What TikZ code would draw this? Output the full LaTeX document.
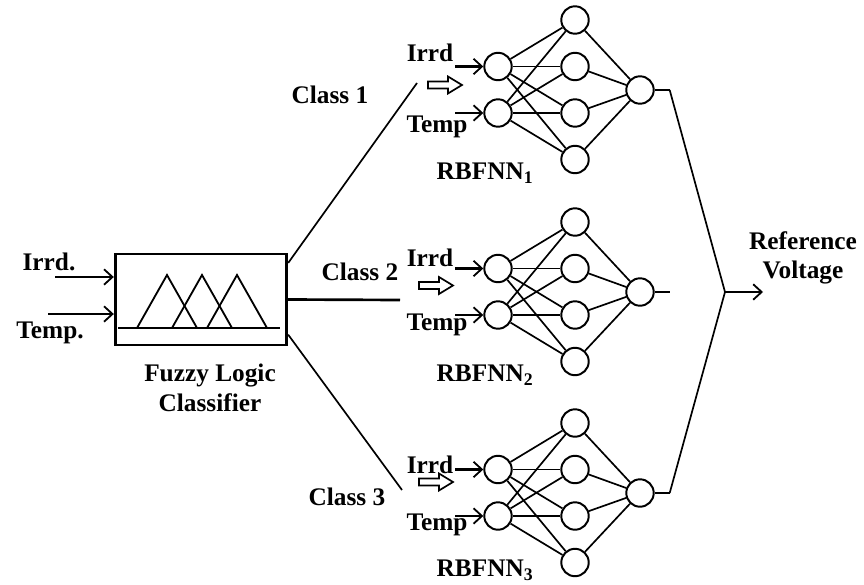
\documentclass[tikz,border=0pt]{standalone}
\usepackage{fontspec}
\setmainfont{Liberation Serif}
\usetikzlibrary{arrows.meta,positioning}

\tikzset{
  neuron/.style={draw,circle,line width=1.4pt,minimum size=19.5pt,inner sep=0pt},
  lbl/.style={font=\fontsize{18}{21}\selectfont\bfseries,inner sep=0pt,align=center},
  conn/.style={line width=1.2pt},
  inarrow/.style={line width=1.5pt,-{Straight Barb[length=6pt,width=11pt,line width=1.3pt]}},
  hollowarrow/.pic={\draw[line width=1.2pt,line join=miter] (-17,-3.5)--(3,-3.5)--(3,-8.5)--(17,0)--(3,8.5)--(3,3.5)--(-17,3.5)--cycle;}
}

\begin{document}
\begin{tikzpicture}[x=0.025cm,y=-0.025cm]
  \useasboundingbox (0,0) rectangle (864,585);
  % fuzzy classifier
  \node[draw,line width=2pt,minimum width=122pt,minimum height=64.7pt,inner sep=0pt] (flc) at (201,299.5) {};
  \draw[line width=1.8pt] (118,328) -- (280,328);
  \foreach \p in {167,202,237}
    \draw[line width=1.3pt] (\p-30,328) -- (\p,275) -- (\p+30,328);
  \node[lbl] (lirrd) at (49,262) {Irrd.};
  \node[lbl] (ltemp) at (50,333) {Temp.};
  \coordinate (irrdin) at (55,277);
  \coordinate (tempin) at (48,314);
  \draw[inarrow] (irrdin) -- (irrdin -| flc.west);
  \draw[inarrow] (tempin) -- (tempin -| flc.west);
  \node[lbl] (lflc) at (210,388) {Fuzzy Logic\\Classifier};

  % class branches
  \coordinate (c1) at (417,83);
  \coordinate (c2) at (400,300);
  \coordinate (c3) at (402,490);
  \draw[conn] ([yshift=26pt]flc.east) -- (c1);
  \draw[line width=1.9pt] (flc.east) -- (c2);
  \draw[conn] ([yshift=-25pt]flc.east) -- (c3);
  \node[lbl] (lc1) at (330,95) {Class 1};
  \node[lbl] (lc2) at (360,272) {Class 2};
  \node[lbl] (lc3) at (347,497) {Class 3};

  % three RBF networks
  \coordinate (jn) at (725,292);
  \foreach \n/\y/\iy/\ty/\ax in {1/0/53/127/445, 2/202/258/325/436, 3/403/465/525/436} {
    \foreach \k in {1,...,4}
      \node[neuron] (h\n\k) at (575,{20+\y+46.5*(\k-1)}) {};
    \node[neuron] (i\n1) at (498,66.5+\y) {};
    \node[neuron] (i\n2) at (498,113+\y) {};
    \node[neuron] (o\n) at (640,90+\y) {};
    \foreach \j in {1,2}
      \foreach \k in {1,...,4}
        \draw[conn] (i\n\j) -- (h\n\k);
    \foreach \k in {1,...,4}
      \draw[conn] (h\n\k) -- (o\n);
    \coordinate (a\n1) at (455,66.5+\y);
    \coordinate (a\n2) at (455,113+\y);
    \draw[inarrow] (a\n1) -- (i\n1);
    \draw[inarrow] (a\n2) -- (i\n2);
    \node[lbl] (li\n) at (430,\iy) {Irrd};
    \node[lbl] (lt\n) at (437,\ty) {Temp};
    \pic at (\ax,{85+\y-(\n-1)*(\n-1)*1.5}) {hollowarrow};
  }
  \node[lbl] (lr1) at (485,173) {RBFNN\textsubscript{1}};
  \node[lbl] (lr2) at (485,375) {RBFNN\textsubscript{2}};
  \node[lbl] (lr3) at (485,570) {RBFNN\textsubscript{3}};

  % output combination
  \draw[line width=1.6pt] (o1.east) -- ++(15,0) coordinate (s1);
  \draw[line width=1.6pt] (o2.east) -- ++(15,0) coordinate (s2);
  \draw[line width=1.6pt] (o3.east) -- ++(15,0) coordinate (s3);
  \draw[conn] (s1) -- (jn) -- (s3);
  \coordinate (refend) at (763,292);
  \draw[inarrow] (jn) -- (refend);
  \node[lbl] (lref) at (803,258) {Reference\\Voltage};
\end{tikzpicture}
\end{document}
